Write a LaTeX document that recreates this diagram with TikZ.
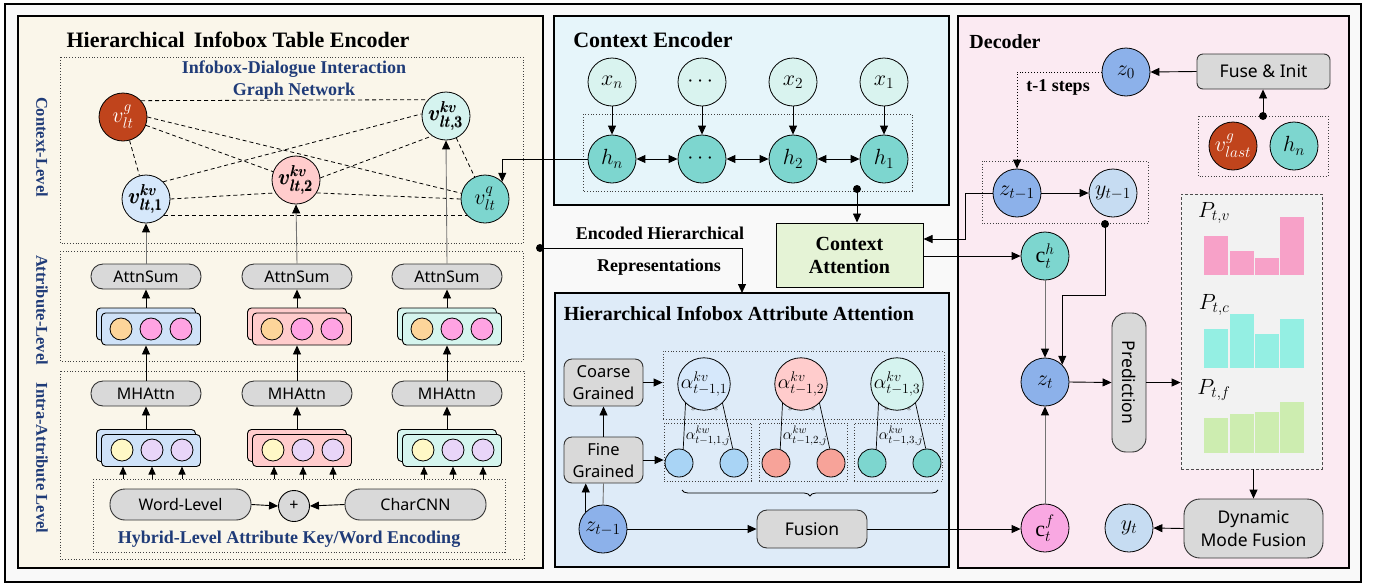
\RequirePackage{fix-cm}
\documentclass[tikz,border=0pt]{standalone}
\usepackage{amsmath}
\usepackage{fontspec}
\setmainfont{Liberation Serif}
\newfontfamily\lbl{Noto Sans}
\usetikzlibrary{arrows.meta,decorations.pathreplacing,calc}

\definecolor{cream}{HTML}{FAF6EA}
\definecolor{ctxbg}{HTML}{E6F5FA}
\definecolor{hiabg}{HTML}{DEEBF8}
\definecolor{decbg}{HTML}{FBEAF2}
\definecolor{outerbg}{HTML}{F9F9F9}
\definecolor{navy}{HTML}{1F3B78}
\definecolor{boxgray}{HTML}{D9D9D9}
\definecolor{rust}{HTML}{C0441C}
\definecolor{kvblue}{HTML}{D6E8FB}
\definecolor{kvpink}{HTML}{FFCCCC}
\definecolor{kvmint}{HTML}{D5F3EF}
\definecolor{tealc}{HTML}{7DD6CF}
\definecolor{xmint}{HTML}{D9F3EF}
\definecolor{zblue}{HTML}{8CB1EA}
\definecolor{ylight}{HTML}{C6DCF2}
\definecolor{cfpink}{HTML}{F9A8E2}
\definecolor{attgreen}{HTML}{E5F3D6}
\definecolor{dotorange}{HTML}{FDD59A}
\definecolor{dotpink}{HTML}{FFA3E3}
\definecolor{dotyellow}{HTML}{FFF8C6}
\definecolor{dotlilac}{HTML}{E8D5F8}
\definecolor{cardblue}{HTML}{CFE2F8}
\definecolor{cardpink}{HTML}{FFCCCC}
\definecolor{cardmint}{HTML}{D5F5EE}
\definecolor{sblue}{HTML}{A9D4F5}
\definecolor{ssalmon}{HTML}{F7A399}
\definecolor{barpink}{HTML}{F7A1C8}
\definecolor{barcyan}{HTML}{94EFE3}
\definecolor{bargreen}{HTML}{CDEDB0}
\definecolor{probbg}{HTML}{F2F2F2}

\newcommand{\vkv}[1]{$\pmb{v}^{\pmb{kv}}_{\pmb{lt,#1}}$}

\tikzset{
  every node/.style={inner sep=0pt},
  panel/.style={draw=black,line width=1.5pt},
  dbox/.style={draw=black!75,dotted,line width=0.8pt},
  ttl/.style={font=\bfseries\fontsize{20}{24}\selectfont},
  lvl/.style={font=\bfseries\fontsize{16.5}{20}\selectfont,text=navy},
  sub/.style={font=\bfseries\fontsize{18}{22}\selectfont},
  circ/.style={circle,draw=black,line width=0.8pt,minimum size=48pt,font=\fontsize{22}{24}\selectfont},
  scirc/.style={circle,draw=black,line width=0.8pt,minimum size=28pt},
  sdot/.style={circle,draw=black,line width=0.8pt,minimum size=22pt},
  pill/.style={draw=black!80,fill=boxgray,rounded corners=12pt,line width=0.9pt,
    minimum width=110pt,minimum height=25pt,font=\lbl\fontsize{16}{19}\selectfont},
  gbox/.style={draw=black!80,fill=boxgray,line width=0.9pt,align=center,
    font=\lbl\fontsize{17.5}{23}\selectfont},
  card/.style={draw=black,rounded corners=4pt,line width=0.9pt,minimum width=99pt,minimum height=32pt},
  arr/.style={-{Triangle[length=9pt,width=8pt]},line width=0.9pt},
  sarr/.style={-{Triangle[length=8pt,width=7pt]},line width=0.9pt},
  garr/.style={-{Triangle[length=9pt,width=8pt,color=black]},line width=0.9pt,draw=black!55},
  darr/.style={{Triangle[length=9pt,width=8pt]}-{Triangle[length=9pt,width=8pt]},line width=0.9pt},
  dedge/.style={line width=0.8pt,dash pattern=on 4pt off 3pt},
  star/.style={font=\fontsize{10}{10}\selectfont,text=black!70},
}

\begin{document}
\begin{tikzpicture}[x=1pt,y=-1pt]
\useasboundingbox (0,0) rectangle (1375,587);
\fill[white] (0,0) rectangle (1375,587);
\draw[line width=2pt,fill=outerbg] (5,4) rectangle (1361,582);

% ---------- panels ----------
\draw[panel,fill=cream] (18,16) rectangle (543,568);
\draw[panel,fill=ctxbg] (554,16) rectangle (949,205);
\draw[panel,fill=hiabg] (555,293) rectangle (949,567);
\draw[panel,fill=decbg] (958,16) rectangle (1349,568);

% ---------- table encoder ----------
\node[font=\bfseries\fontsize{22}{26}\selectfont] (encT) at (238,40) {Hierarchical~\,Infobox Table Encoder};
\draw[dbox] (60,57) rectangle (523,243);
\draw[dbox] (60,251) rectangle (523,361);
\draw[dbox] (60,371) rectangle (524,559);
\draw[dbox] (93,479) rectangle (505,552);
\node[lvl,rotate=-90] (lvC) at (42,147) {Context-Level};
\node[lvl,rotate=-90] (lvA) at (42,310) {Attribute-Level};
\node[lvl,rotate=-90] (lvI) at (42,458) {Intra-Attribute Level};
\node[sub,text=navy,align=center] (gnT) at (294,80) {Infobox-Dialogue Interaction\\Graph Network};

% graph nodes
\node[circ,fill=rust,text=white] (vg) at (123,117) {$v_{lt}^{g}$};
\node[circ,fill=kvmint] (kv3) at (446,116) {\vkv{3}};
\node[circ,fill=kvblue] (kv1) at (146,199) {\vkv{1}};
\node[circ,fill=kvpink] (kv2) at (296,180) {\vkv{2}};
\node[circ,fill=tealc] (q) at (485,199) {$v_{lt}^{q}$};

% graph edges
\draw[dedge] (vg.42) -- (kv3.138);
\draw[dedge] (vg) -- (kv1);
\draw[dedge] (vg) -- (kv2);
\draw[dedge] (vg.east) -- (q);
\draw[dedge] (kv1.45) -- (kv3.175);
\draw[dedge] (kv2.5) -- (kv3.235);
\draw[dedge] (kv3) -- (q);
\draw[dedge] (kv1.0) -- (kv2.212);
\draw[dedge] (kv2.-32) -- (q.180);
\draw[dedge] (kv1.-42) -- (q.222);

% attribute columns
\foreach \c/\col/\i in {146/cardblue/1,297/cardpink/2,447/cardmint/3}{
  \node[pill] (as\i) at (\c,276.5) {AttnSum};
  \node[pill] (mh\i) at (\c,393.5) {MHAttn};
  % attribute-level stack
  \node[card,fill=\col] (ub\i) at (\c,324) {};
  \node[card,fill=\col] (uf\i) at (\c+5,329) {};
  \node[sdot,fill=dotorange] at (\c-25,329) {};
  \node[sdot,fill=dotpink] at (\c+5,329) {};
  \node[sdot,fill=dotpink] at (\c+35,329) {};
  % intra-attribute stack
  \node[card,fill=\col] (lb\i) at (\c,445.5) {};
  \node[card,fill=\col] (lf\i) at (\c+5,450.5) {};
  \node[sdot,fill=dotyellow] at (\c-24,450) {};
  \node[sdot,fill=dotlilac] at (\c+6,450) {};
  \node[sdot,fill=dotlilac] at (\c+36,450) {};
  % flow
  \draw[arr] (ub\i.north -| as\i) -- (as\i.south);
  \draw[arr] (mh\i.north) -- (mh\i.north |- uf\i.south);
  \draw[arr] (lb\i.north -| mh\i) -- (mh\i.south);
  \foreach \d in {-23,6,36}{
    \draw[sarr] (\c+\d,479) -- (\c+\d,466.5);
  }
}
\draw[garr] (as1.north) -- (kv1.south);
\draw[garr] (as2.north) -- (kv2.south);
\draw[garr] (as3.north) -- (kv3.south);

% hybrid encoding
\node[pill,minimum width=141pt,minimum height=31pt,rounded corners=15pt] (wl) at (180.5,504.5) {Word-Level};
\node[pill,minimum width=141pt,minimum height=31pt,rounded corners=15pt] (cc) at (415.5,504.5) {CharCNN};
\node[circle,draw=black,fill=boxgray,line width=0.9pt,minimum size=31pt,font=\lbl\fontsize{16}{19}\selectfont] (plus) at (294,506) {+};
\draw[arr] (wl.east) -- (plus.west);
\draw[arr] (cc.west) -- (plus.east);
\node[sub,text=navy] (hyT) at (289,539) {Hybrid-Level Attribute Key/Word Encoding};

% ---------- context encoder ----------
\node[font=\bfseries\fontsize{22}{26}\selectfont] (ctxT) at (653,40) {Context Encoder};
\draw[dbox] (583,114) rectangle (912,191);
\foreach \x/\n/\lab in {612/a/x_n,702/b/\cdots,793/c/x_2,884/d/x_1}{
  \node[circ,fill=xmint] (x\n) at (\x,82) {$\lab$};
}
\foreach \x/\n/\lab in {612/a/h_n,702/b/\cdots,793/c/h_2,884/d/h_1}{
  \node[circ,fill=tealc] (h\n) at (\x,159) {$\lab$};
  \draw[arr] (x\n.south) -- (h\n.north);
}
\draw[darr] (ha.east) -- (hb.west);
\draw[darr] (hb.east) -- (hc.west);
\draw[darr] (hc.east) -- (hd.west);
\draw[arr] (ha.west) -| (q.45);

\node[draw=black,line width=1pt,fill=attgreen,minimum width=147pt,minimum height=64pt,align=center,
  font=\bfseries\fontsize{20}{23}\selectfont] (catt) at (849.5,255) {Context\\Attention};
\coordinate (ctxdot) at (857,189);
\fill (ctxdot) circle (4);
\draw[arr] (ctxdot) -- (ctxdot |- catt.north);

\node[sub] (encL1) at (660,233) {Encoded Hierarchical};
\node[sub] (encL2) at (659,267) {Representations};
\coordinate (encdot) at (540,248);
\coordinate (hiaaIn) at (742,293);
\fill (encdot) circle (4);
\draw[arr] (encdot) -| (hiaaIn);

% ---------- hierarchical attribute attention ----------
\node[ttl] (hiaT) at (739,314) {Hierarchical Infobox Attribute Attention};
\node[gbox,rounded corners=8pt,minimum width=79pt,minimum height=47pt,font=\lbl\fontsize{16.5}{22}\selectfont] (coarse) at (603.5,382.5) {Coarse\\Grained};
\node[gbox,rounded corners=8pt,minimum width=79pt,minimum height=46pt,font=\lbl\fontsize{16.5}{22}\selectfont] (fine) at (603.5,460) {Fine\\Grained};
\draw[arr] (fine.north) -- (coarse.south);

\node[dbox,minimum width=281pt,minimum height=68pt] (kvbox) at (803.5,385) {};
\node[dbox,minimum width=87pt,minimum height=58pt] (kw1) at (707.5,452) {};
\node[dbox,minimum width=88pt,minimum height=58pt] (kw2) at (803,452) {};
\node[dbox,minimum width=88pt,minimum height=58pt] (kw3) at (898,452) {};
\draw[arr] (coarse.east) -- (coarse.east -| kvbox.west);
\draw[arr] (fine.east) -- (fine.east -| kw1.west);

\foreach \x/\i/\col/\scol in {704/1/kvblue/sblue,801/2/kvpink/ssalmon,897/3/kvmint/tealc}{
  \node[circ,fill=\col,font=\fontsize{20}{22}\selectfont] (a\i) at (\x,384) {$\alpha^{kv}_{t-1,\i}$};
  \node[scirc,fill=\scol] (s\i a) at (\x-25,463) {};
  \node[scirc,fill=\scol] (s\i b) at (\x+30,463) {};
  \draw[line width=0.7pt] (a\i.226) -- (s\i a.73);
  \draw[line width=0.7pt] (a\i.314) -- (s\i b.95);
  \node[star] at (\x-11,409) {$\ast$};
  \node[star] at (\x+12,409) {$\ast$};
  \node[font=\fontsize{15.5}{17}\selectfont] at (\x+4,436) {$\alpha^{kw}_{t-1,\i,j}$};
}
\draw[decorate,decoration={brace,mirror,amplitude=6pt},line width=0.8pt] (682,490) -- (938,490);

\node[gbox,rounded corners=10pt,minimum width=110pt,minimum height=38pt] (fusion) at (812,529) {Fusion};
\node[circ,fill=zblue] (hz) at (603,529) {$z_{t-1}$};
\draw[arr] (hz.east) -- (fusion.west);
\draw[arr] (hz.135) -- (hz.135 |- fine.south);
\draw[line width=0.9pt,draw=black!55] (hz.north) -- (fine.south);

% ---------- decoder ----------
\node[ttl] (decT) at (1005,42) {Decoder};
\node[circ,fill=zblue] (z0) at (1126,72) {$z_0$};
\node[gbox,rounded corners=6pt,minimum width=133pt,minimum height=35pt] (fuse) at (1263.5,71.5) {Fuse \& Init};
\draw[arr] (fuse.west) -- (z0.east);
\draw[dbox] (1198,116) rectangle (1328,176);
\node[circ,fill=rust,text=white] (vlast) at (1233,146) {$v^{g}_{last}$};
\node[circ,fill=tealc] (hnd) at (1294,146) {$h_n$};
\coordinate (initdot) at (1263,116);
\fill (initdot) circle (4);
\draw[arr] (initdot) -- (initdot |- fuse.south);

\draw[dbox] (982,161) rectangle (1148,223);
\node[circ,fill=zblue] (zprev) at (1017,193) {$z_{t-1}$};
\node[circ,fill=ylight] (yprev) at (1113,193) {$y_{t-1}$};
\draw[arr,dotted] (z0.west) -| (zprev.north);
\node[sub] (stepL) at (1058,87) {t-1 steps};
\draw[arr] (zprev.east) -- (yprev.west);
\draw[arr] (zprev.west) -- ++(-27,0) |- ($(catt.east)+(0,-16)$);

\node[circ,fill=tealc] (cth) at (1045,256) {$\mathrm{c}_t^h$};
\node[circ,fill=zblue] (zt) at (1045,382) {$z_t$};
\node[circ,fill=cfpink] (ctf) at (1045,528) {$\mathrm{c}_t^f$};
\node[circ,fill=ylight] (yt) at (1129,528) {$y_t$};
\draw[arr] (catt.east |- cth) -- (cth.west);
\draw[garr] (cth.south) -- (zt.north);
\draw[garr] (ctf.north) -- (zt.south);
\coordinate (ydot) at (1105,224);
\fill (ydot) circle (4);
\draw[arr] (ydot) -- (1105,295) -| (zt.45);
\draw[arr] (fusion.east) -- (fusion.east -| ctf.west);

\node[draw=black!80,fill=boxgray,rounded corners=14pt,line width=0.9pt,minimum width=34pt,minimum height=139pt] (pred) at (1129,382.5) {};
\node[rotate=-90,font=\lbl\fontsize{17.5}{20}\selectfont] (predL) at (pred.center) {Prediction};
\draw[arr] (zt.east) -- (pred.west);

\node[draw=black!70,dash pattern=on 3pt off 2pt,fill=probbg,line width=0.8pt,minimum width=141pt,minimum height=275pt] (prob) at (1251.5,331.5) {};
\draw[arr] (pred.east) -- (pred.east -| prob.west);
% distribution bars
\foreach \xa/\xb/\t in {1204/1228/236,1230/1254/251,1255/1279/258,1280/1304/217}{
  \fill[barpink] (\xa,\t) rectangle (\xb,275);}
\foreach \xa/\xb/\t in {1204/1228/329,1230/1254/314,1255/1279/334,1280/1304/319}{
  \fill[barcyan] (\xa,\t) rectangle (\xb,368);}
\foreach \xa/\xb/\t in {1204/1228/418,1230/1254/414,1255/1279/412,1280/1304/402}{
  \fill[bargreen] (\xa,\t) rectangle (\xb,453);}
\node[font=\fontsize{22}{24}\selectfont] (pv) at (1214,213) {$P_{t,v}$};
\node[font=\fontsize{22}{24}\selectfont] (pc) at (1214,305) {$P_{t,c}$};
\node[font=\fontsize{22}{24}\selectfont] (pf) at (1214,390) {$P_{t,f}$};

\node[gbox,rounded corners=16pt,minimum width=139pt,minimum height=59pt] (dmf) at (1253.5,528.5) {Dynamic\\Mode Fusion};
\draw[arr] (prob.south -| dmf.north) -- (dmf.north);
\draw[arr] (dmf.west) -- (yt.east);
\end{tikzpicture}
\end{document}
